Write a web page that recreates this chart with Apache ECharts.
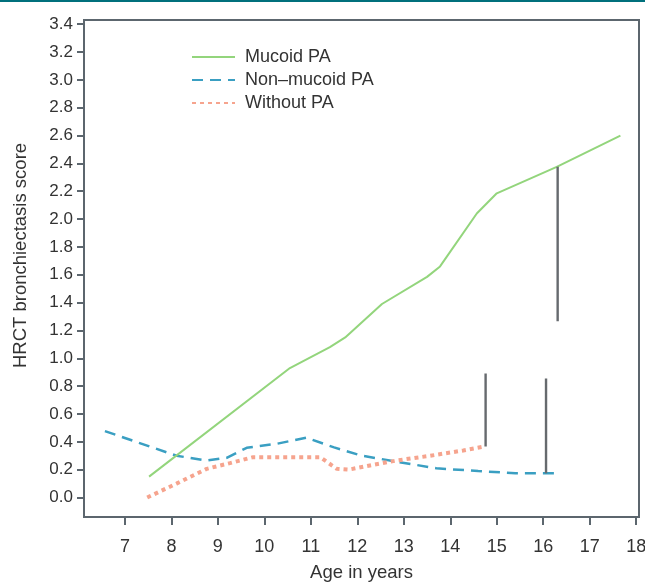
<!DOCTYPE html>
<html>
<head>
<meta charset="utf-8">
<script src="https://cdn.jsdelivr.net/npm/echarts@6/dist/echarts.min.js"></script>
<style>html,body{margin:0;padding:0;background:#fff;}#c{width:645px;height:582px;}</style>
</head>
<body>
<div id="c"></div>
<script>
// Mucoid PA (solid green)
const mucoidX = [7.52, 10.55, 11.41, 11.74, 12.53, 13.50, 13.78, 14.57, 15.00, 16.29, 17.66];
const mucoidY = [0.15, 0.93, 1.08, 1.15, 1.39, 1.585, 1.66, 2.04, 2.185, 2.375, 2.60];
// Non-mucoid PA (dashed blue)
const nonMucoidX = [6.57, 8.11, 8.76, 9.19, 9.62, 10.27, 10.9, 11.5, 12.1, 12.8, 13.7, 14.6, 15.4, 16.25];
const nonMucoidY = [0.477, 0.30, 0.266, 0.285, 0.357, 0.386, 0.43, 0.36, 0.30, 0.26, 0.21, 0.19, 0.175, 0.175];
// Without PA (dotted orange)
const withoutX = [7.48, 8.11, 8.76, 9.26, 9.76, 11.2, 11.56, 11.81, 12.27, 12.85, 13.57, 14.28, 14.75];
const withoutY = [0.0, 0.10, 0.206, 0.247, 0.29, 0.29, 0.206, 0.20, 0.23, 0.266, 0.30, 0.338, 0.367];
// Error bars
const errX = [14.76, 16.06, 16.31];
const errLow = [0.367, 0.175, 1.266];
const errHigh = [0.89, 0.854, 2.376];
// Ticks
const xTicks = [7, 8, 9, 10, 11, 12, 13, 14, 15, 16, 17, 18];
const yTicks = [0, 0.2, 0.4, 0.6, 0.8, 1.0, 1.2, 1.4, 1.6, 1.8, 2.0, 2.2, 2.4, 2.6, 2.8, 3.0, 3.2, 3.4];
const legendNames = ['Mucoid PA', 'Non\u2013mucoid PA', 'Without PA'];

const zip = (xs, ys) => xs.map((x, i) => [x, ys[i]]);
const axisColor = '#5c666e';
const font = 'Liberation Sans, Arial, sans-serif';

const errSeries = errX.map((x, i) => ({
  type: 'line', name: 'err' + i, data: [[x, errLow[i]], [x, errHigh[i]]],
  symbol: 'none', lineStyle: { color: '#666a6e', width: 2.4 }, z: 5, silent: true
}));

const chart = echarts.init(document.getElementById('c'), null, { renderer: 'canvas' });
chart.setOption({
  animation: false,
  backgroundColor: '#fff',
  textStyle: { fontFamily: font },
  graphic: [{ type: 'rect', left: 0, top: 0, shape: { width: 645, height: 2 }, style: { fill: '#00707c' } }],
  grid: { left: 84, top: 20, right: 6, bottom: 65, show: true, borderColor: axisColor, borderWidth: 2,
    backgroundColor: 'transparent', outerBoundsMode: 'none', containLabel: false },
  legend: {
    data: legendNames, orient: 'vertical', left: 186, top: 43,
    itemWidth: 43, itemHeight: 14, itemGap: 5,
    itemStyle: { opacity: 0 },
    textStyle: { fontSize: 18, lineHeight: 18, color: '#333', fontFamily: font, padding: [0, 0, 0, 5] }
  },
  xAxis: {
    type: 'value', min: 6.12, max: 18.06,
    name: 'Age in years', nameLocation: 'middle', nameGap: 46,
    nameTextStyle: { fontSize: 18.5, color: '#333', fontFamily: font },
    axisLine: { show: false, onZero: false },
    axisTick: { show: true, length: 8, customValues: xTicks, lineStyle: { color: axisColor, width: 2 } },
    axisLabel: { customValues: xTicks, margin: 21, fontSize: 18, color: '#333', fontFamily: font },
    splitLine: { show: false }
  },
  yAxis: {
    type: 'value', min: -0.14, max: 3.43,
    name: 'HRCT bronchiectasis score', nameLocation: 'middle', nameGap: 54,
    nameTextStyle: { fontSize: 18.5, color: '#333', fontFamily: font, padding: [0, 0, 0, 26] },
    axisLine: { show: false, onZero: false },
    axisTick: { show: true, length: 7, customValues: yTicks, lineStyle: { color: axisColor, width: 2 } },
    axisLabel: { customValues: yTicks, margin: 11, fontSize: 17, color: '#333', fontFamily: font, formatter: v => v.toFixed(1) },
    splitLine: { show: false }
  },
  series: [
    { type: 'line', name: legendNames[0], data: zip(mucoidX, mucoidY), symbol: 'none',
      lineStyle: { color: '#93d57c', width: 2 }, itemStyle: { color: '#93d57c' }, z: 3 },
    { type: 'line', name: legendNames[1], data: zip(nonMucoidX, nonMucoidY), symbol: 'none',
      lineStyle: { color: '#3a9fc2', width: 2.5, type: [11, 7] }, itemStyle: { color: '#3a9fc2' }, z: 2 },
    { type: 'line', name: legendNames[2], data: zip(withoutX, withoutY), symbol: 'none',
      lineStyle: { color: '#f6a48e', width: 4, type: [4, 4] }, itemStyle: { color: '#f6a48e' }, z: 2 }
  ].concat(errSeries)
});
</script>
</body>
</html>
